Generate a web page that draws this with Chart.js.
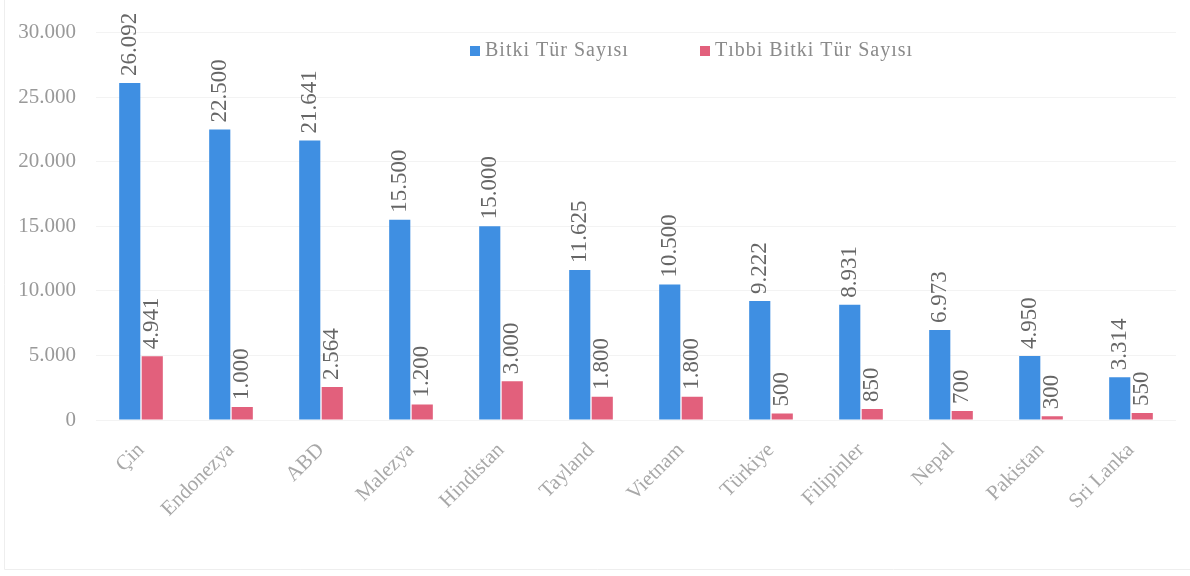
<!DOCTYPE html>
<html>
<head>
<meta charset="utf-8">
<script src="https://cdn.jsdelivr.net/npm/chart.js@4"></script>
<style>
html,body{margin:0;padding:0;background:#fff;}
#wrap{width:1190px;height:576px;position:relative;}
</style>
</head>
<body>
<div id="wrap"><canvas id="c" width="1190" height="576"></canvas></div>
<script>
const categories = ["Çin","Endonezya","ABD","Malezya","Hindistan","Tayland","Vietnam","Türkiye","Filipinler","Nepal","Pakistan","Sri Lanka"];
const plantSpecies = [26092,22500,21641,15500,15000,11625,10500,9222,8931,6973,4950,3314];
const medicinalSpecies = [4941,1000,2564,1200,3000,1800,1800,500,850,700,300,550];
const seriesNames = ["Bitki Tür Sayısı","Tıbbi Bitki Tür Sayısı"];
const yTicks = [0,5000,10000,15000,20000,25000,30000];

const fmt = v => String(v).replace(/\B(?=(\d{3})+(?!\d))/g, '.');
const FONT = "'Liberation Serif', 'DejaVu Serif', serif";
const colors = ['#3f8fe2', '#e2607c'];

const labelPlugin = {
  id: 'barLabels',
  afterDatasetsDraw(chart) {
    const ctx = chart.ctx;
    ctx.save();
    ctx.font = "23px " + FONT;
    ctx.fillStyle = '#666';
    ctx.textAlign = 'left';
    ctx.textBaseline = 'middle';
    chart.data.datasets.forEach((ds, di) => {
      const meta = chart.getDatasetMeta(di);
      meta.data.forEach((el, i) => {
        ctx.save();
        ctx.translate(el.x, el.y - 7);
        ctx.rotate(-Math.PI / 2);
        ctx.fillText(fmt(ds.data[i]), 0, 0);
        ctx.restore();
      });
    });
    ctx.restore();
  }
};

const legendPlugin = {
  id: 'customLegend',
  afterDraw(chart) {
    const ctx = chart.ctx;
    ctx.save();
    ctx.font = "20px " + FONT;
    try { ctx.letterSpacing = '1px'; } catch (e) {}
    ctx.textBaseline = 'middle';
    const items = [{x: 470}, {x: 700}];
    items.forEach((it, i) => {
      ctx.fillStyle = colors[i];
      ctx.fillRect(it.x, 46, 10, 10);
      ctx.fillStyle = '#8a8a8a';
      ctx.fillText(seriesNames[i], it.x + 15, 51);
    });
    ctx.restore();
    ctx.save();
    ctx.strokeStyle = '#eeeeee';
    ctx.lineWidth = 1;
    ctx.beginPath();
    ctx.moveTo(4.5, 0);
    ctx.lineTo(4.5, 569.5);
    ctx.lineTo(1190, 569.5);
    ctx.stroke();
    ctx.restore();
  }
};

new Chart(document.getElementById('c'), {
  type: 'bar',
  data: {
    labels: categories,
    datasets: [
      { label: seriesNames[0], data: plantSpecies, backgroundColor: colors[0] },
      { label: seriesNames[1], data: medicinalSpecies, backgroundColor: colors[1] }
    ]
  },
  options: {
    responsive: false,
    animation: false,
    layout: { padding: { top: 4, right: 14, left: 0, bottom: 0 } },
    plugins: { legend: { display: false }, tooltip: { enabled: false } },
    datasets: { bar: { categoryPercentage: 0.5, barPercentage: 0.94 } },
    scales: {
      x: {
        grid: { display: false },
        border: { display: false },
        ticks: {
          font: { family: FONT, size: 21 },
          color: '#a8a8a8',
          minRotation: 45, maxRotation: 45,
          padding: 10
        },
        afterFit(scale) { scale.height = 156; }
      },
      y: {
        min: 0, max: 30000,
        afterBuildTicks(scale) { scale.ticks = yTicks.map(v => ({ value: v })); },
        grid: { color: '#f3f3f3', drawTicks: false },
        border: { display: false },
        ticks: {
          font: { family: FONT, size: 21 },
          color: '#999',
          padding: 20,
          callback: v => fmt(v)
        },
        afterFit(scale) { scale.width = 96; }
      }
    }
  },
  plugins: [labelPlugin, legendPlugin]
});
</script>
</body>
</html>
